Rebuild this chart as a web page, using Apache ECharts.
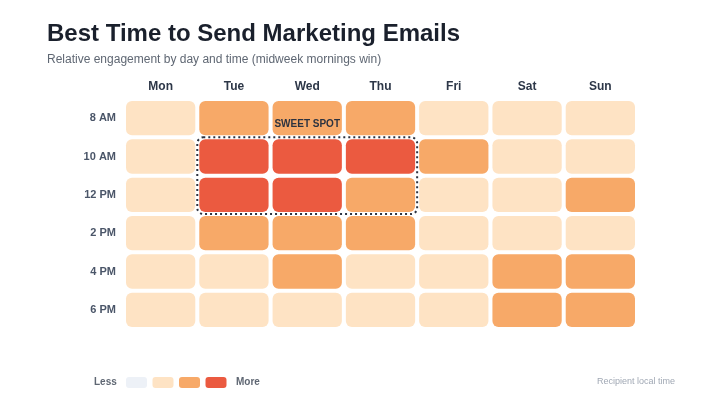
<!DOCTYPE html>
<html>
<head>
<meta charset="utf-8">
<script src="https://cdn.jsdelivr.net/npm/echarts@6/dist/echarts.min.js"></script>
<style>
  html, body { margin: 0; padding: 0; background: #fff; }
  #chart { width: 720px; height: 405px; }
</style>
</head>
<body>
<div id="chart"></div>
<script>
// days and send times
const days = ['Mon', 'Tue', 'Wed', 'Thu', 'Fri', 'Sat', 'Sun'];
const hours = ['8 AM', '10 AM', '12 PM', '2 PM', '4 PM', '6 PM'];
// engagement level per row (0 = lowest, 3 = highest)
const row8am  = [1, 2, 2, 2, 1, 1, 1];
const row10am = [1, 3, 3, 3, 2, 1, 1];
const row12pm = [1, 3, 3, 2, 1, 1, 2];
const row2pm  = [1, 2, 2, 2, 1, 1, 1];
const row4pm  = [1, 1, 2, 1, 1, 2, 2];
const row6pm  = [1, 1, 1, 1, 1, 2, 2];
const levelColors = ['#edf1f7', '#fee3c4', '#f7a968', '#eb5a40'];
// sweet spot: Tue..Thu, 10 AM..12 PM
const sweetSpot = [[1, 1, 3, 2]];

const rows = [row8am, row10am, row12pm, row2pm, row4pm, row6pm];
const cells = [];
rows.forEach((r, yi) => r.forEach((v, xi) => cells.push([xi, yi, v])));

const chart = echarts.init(document.getElementById('chart'));
const font = 'Liberation Sans, Arial, Helvetica, sans-serif';

const option = {
  backgroundColor: '#fff',
  textStyle: { fontFamily: font },
  title: {
    text: 'Best Time to Send Marketing Emails',
    subtext: 'Relative engagement by day and time (midweek mornings win)',
    left: 42, top: 17, itemGap: 8,
    textStyle: { fontSize: 24, fontWeight: 'bold', color: '#1a202c', fontFamily: font },
    subtextStyle: { fontSize: 12, color: '#5f6773', fontFamily: font }
  },
  grid: { left: 124, right: 83, top: 99, bottom: 76 },
  xAxis: {
    type: 'category', data: days, position: 'top',
    axisLine: { show: false }, axisTick: { show: false }, splitLine: { show: false },
    axisLabel: { fontSize: 12, fontWeight: 'bold', color: '#2d3748', margin: 6, fontFamily: font }
  },
  yAxis: {
    type: 'category', data: hours, inverse: true,
    axisLine: { show: false }, axisTick: { show: false }, splitLine: { show: false },
    axisLabel: { fontSize: 11, fontWeight: 'bold', color: '#4a5568', margin: 8, fontFamily: font }
  },
  series: [
    {
      type: 'custom',
      data: cells,
      encode: { x: 0, y: 1 },
      renderItem: (params, api) => {
        const p = api.coord([api.value(0), api.value(1)]);
        const s = api.size([1, 1]);
        const w = s[0] - 4, h = s[1] - 4;
        return {
          type: 'rect',
          shape: { x: p[0] - w / 2, y: p[1] - h / 2, width: w, height: h, r: 6 },
          style: { fill: levelColors[api.value(2)] }
        };
      }
    },
    {
      type: 'custom',
      data: sweetSpot,
      encode: { x: [0, 2], y: [1, 3] },
      z: 5,
      renderItem: (params, api) => {
        const a = api.coord([api.value(0), api.value(1)]);
        const b = api.coord([api.value(2), api.value(3)]);
        const s = api.size([1, 1]);
        const x0 = a[0] - s[0] / 2, y0 = a[1] - s[1] / 2;
        const x1 = b[0] + s[0] / 2, y1 = b[1] + s[1] / 2;
        return {
          type: 'group',
          children: [
            {
              type: 'rect',
              shape: { x: x0, y: y0, width: x1 - x0, height: y1 - y0, r: 6 },
              style: { fill: 'none', stroke: '#2d3340', lineWidth: 2, lineDash: [2, 3] }
            },
            {
              type: 'text',
              style: {
                x: (x0 + x1) / 2, y: y0 - 13, text: 'SWEET SPOT',
                align: 'center', verticalAlign: 'middle',
                font: 'bold 10px ' + font, fill: '#2d3340'
              }
            }
          ]
        };
      }
    }
  ],
  graphic: [
    { type: 'text', left: 94, top: 377, style: { text: 'Less', font: 'bold 10px ' + font, fill: '#5f6773' } },
    ...levelColors.map((c, i) => ({
      type: 'rect', left: 126 + i * 26.5, top: 377,
      shape: { width: 21, height: 11, r: 3 }, style: { fill: c }
    })),
    { type: 'text', left: 236, top: 377, style: { text: 'More', font: 'bold 10px ' + font, fill: '#5f6773' } },
    { type: 'text', right: 45, top: 377, style: { text: 'Recipient local time', font: '9px ' + font, fill: '#a0a8b4' } }
  ]
};

chart.setOption(option);
</script>
</body>
</html>
